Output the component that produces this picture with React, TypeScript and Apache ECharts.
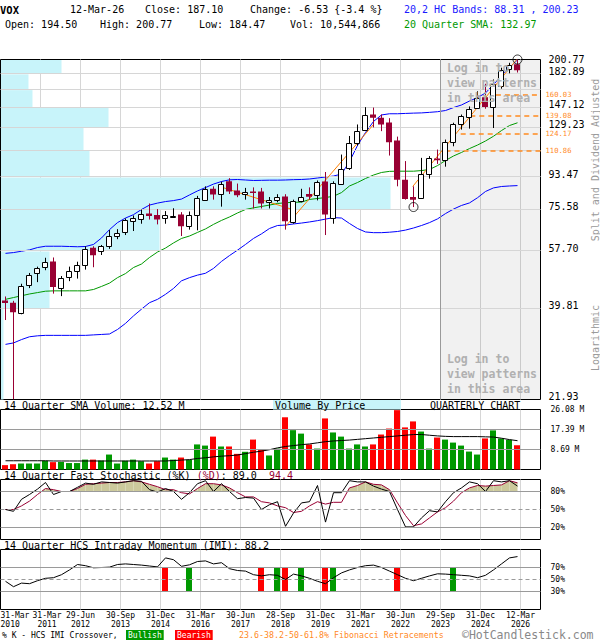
import React, { useEffect, useRef } from "react";
import * as echarts from "echarts";

// ---------------- data (quarterly, 2010Q1 .. 2026Q1) ----------------
const X_LABELS = [
  "31-Mar\n2010", "31-Mar\n2011", "29-Jun\n2012", "30-Sep\n2013", "31-Dec\n2014",
  "31-Mar\n2016", "30-Jun\n2017", "28-Sep\n2018", "31-Dec\n2019", "31-Mar\n2021",
  "30-Jun\n2022", "29-Sep\n2023", "31-Dec\n2024", "12-Mar\n2026",
];
const LAST_DATE = "12-Mar-26";
const TICKER = "VOX";
const LAST_VOLUME = 10544866;

const OPEN = [41.8, 41.2, 38.7, 46.3, 49.9, 52.1, 53.9, 45.4, 48.9, 50.8,
  52.9, 58.9, 57.8, 59.6, 63.5, 64.9, 69.8, 71.1, 73.6, 72.9,
  71.1, 72.3, 73.2, 67.8, 72.5, 80.5, 86.5, 83.6, 90.8, 85.6,
  83.6, 85.0, 85.0, 79.0, 80.2, 82.3, 69.3, 80.1, 83.6, 83.0,
  90.7, 71.3, 89.8, 99.0, 116.7, 127.4, 140.3, 137.3, 133.1, 118.5,
  91.8, 82.0, 81.6, 95.0, 105.4, 104.2, 116.7, 131.5, 138.8, 147.0,
  157.0, 147.4, 169.8, 188.1, 194.5];
const HIGH = [42.9, 41.7, 46.6, 50.0, 52.1, 55.2, 55.3, 49.0, 52.1, 53.8,
  59.5, 59.5, 60.0, 66.1, 66.5, 71.3, 72.7, 75.6, 78.6, 75.8,
  74.8, 76.2, 74.3, 74.6, 82.6, 87.9, 87.9, 90.6, 92.7, 89.5,
  87.0, 87.3, 87.0, 82.0, 83.5, 83.5, 80.6, 86.5, 87.3, 91.3,
  96.5, 90.8, 108.1, 122.0, 131.5, 147.2, 146.8, 140.3, 137.0, 121.5,
  103.6, 87.9, 105.8, 107.0, 111.7, 119.2, 133.0, 140.3, 147.9, 163.2,
  171.4, 176.3, 190.3, 196.5, 200.77];
const LOW = [36.8, 21.93, 38.2, 45.3, 47.1, 50.9, 43.7, 43.0, 47.4, 48.2,
  51.1, 51.9, 56.2, 58.5, 62.3, 64.0, 65.7, 68.9, 70.8, 68.6,
  68.9, 71.6, 63.6, 66.3, 66.0, 79.9, 80.6, 77.0, 83.6, 81.9,
  80.6, 76.1, 76.1, 76.1, 79.2, 66.3, 68.9, 79.2, 80.6, 80.2,
  64.0, 68.9, 88.9, 97.8, 114.5, 127.2, 129.0, 125.9, 107.4, 87.9,
  80.6, 76.8, 81.0, 92.4, 101.7, 99.9, 114.1, 127.2, 128.0, 145.9,
  145.7, 128.5, 166.0, 183.5, 184.47];
const CLOSE = [41.1, 38.7, 46.0, 49.4, 51.7, 53.8, 45.6, 48.4, 50.7, 52.7,
  58.6, 56.1, 59.6, 63.7, 64.9, 70.4, 71.3, 73.6, 72.5, 70.8,
  72.7, 72.6, 67.8, 72.9, 81.2, 86.5, 83.3, 89.5, 85.0, 83.0,
  84.9, 84.5, 78.6, 80.2, 82.0, 70.0, 79.7, 82.1, 82.1, 90.3,
  73.2, 89.8, 98.7, 116.7, 125.9, 140.3, 137.3, 131.5, 117.2, 91.8,
  80.9, 80.6, 95.4, 105.4, 104.2, 117.5, 131.5, 138.8, 145.9, 156.4,
  147.4, 171.4, 188.1, 193.63, 187.10];

const UPPER_BAND = [56.8, 57.1, 57.6, 58.1, 59.0, 59.5, 59.5, 59.5, 59.4, 59.3,
  59.4, 60.2, 62.8, 66.3, 69.4, 71.5, 73.1, 75.6, 77.8, 78.8,
  79.6, 80.1, 80.9, 83.1, 85.3, 87.2, 89.2, 90.7, 91.7, 91.9,
  91.6, 91.3, 91.4, 91.5, 91.5, 91.6, 91.8, 91.9, 92.2, 92.8,
  93.4, 94.0, 95.2, 103.3, 114.7, 124.8, 134.1, 139.9, 141.0, 141.0,
  141.3, 141.6, 141.8, 142.3, 142.9, 144.0, 146.8, 149.3, 153.2, 156.7,
  161.4, 170.6, 180.3, 190.6, 200.23];
const SMA20 = [42.1, 42.6, 43.1, 43.6, 44.0, 44.4, 44.5, 44.5, 44.5, 44.5,
  44.5, 44.9, 45.8, 46.8, 48.5, 49.8, 51.8, 53.0, 55.3, 57.3,
  58.8, 60.8, 62.6, 63.6, 65.1, 66.6, 68.6, 70.4, 72.0, 73.9,
  75.6, 76.4, 77.1, 77.8, 78.6, 79.0, 79.2, 79.3, 80.7, 81.2,
  81.7, 82.4, 84.4, 88.1, 90.1, 92.5, 94.6, 96.2, 96.9, 97.0,
  97.0, 97.0, 97.4, 98.1, 100.6, 104.0, 107.1, 109.6, 112.4, 115.0,
  118.1, 121.8, 126.4, 130.6, 132.97];
const LOWER_BAND = [31.4, 31.7, 32.4, 33.0, 33.2, 33.3, 33.3, 33.3, 33.3, 33.3,
  33.3, 33.4, 33.5, 33.6, 34.6, 36.0, 37.8, 39.5, 41.2, 42.1,
  43.5, 45.2, 47.5, 48.5, 49.3, 49.9, 51.5, 53.9, 56.0, 58.0,
  60.2, 62.6, 64.5, 66.8, 68.1, 68.3, 68.8, 69.2, 69.7, 70.3,
  71.0, 71.7, 71.5, 69.0, 66.8, 65.3, 65.0, 65.0, 65.2, 65.5,
  66.1, 67.0, 68.1, 69.4, 71.1, 73.6, 75.8, 77.6, 78.9, 81.6,
  85.0, 87.0, 87.8, 88.1, 88.31];

// volume in millions of shares; direction g = up quarter, r = down quarter
const VOLUME = [1.9, 2.3, 2.6, 2.6, 2.6, 3.8, 3.2, 3.3, 2.8, 2.8,
  4.3, 4.3, 3.9, 6.5, 2.6, 3.8, 4.3, 3.6, 2.6, 3.6,
  5.2, 4.3, 5.2, 4.2, 10.9, 10.4, 14.3, 10.0, 10.0, 6.8,
  7.7, 13.0, 8.7, 6.1, 9.1, 22.7, 17.1, 15.6, 10.9, 9.1,
  22.2, 16.1, 14.3, 9.1, 10.9, 10.0, 10.9, 15.2, 17.8, 25.8,
  18.3, 20.9, 16.5, 9.1, 13.9, 13.0, 11.7, 10.4, 7.8, 6.5,
  13.5, 17.0, 13.5, 12.9, 10.54];
const VOLUME_DIR = "rrggggrggg" + "grggggggrr" + "ggrgggrgrr" + "grrggrggrg" + "rgggggrrrr" + "rrggrggggg" + "rgggr";
const VOL_SMA14 = [3.8, 3.8, 3.8, 3.8, 3.8, 3.8, 3.7, 3.7, 3.7, 3.7,
  3.7, 3.7, 3.7, 3.7, 3.7, 3.7, 3.7, 3.7, 3.7, 3.7,
  3.7, 3.9, 4.1, 4.3, 4.8, 5.1, 5.5, 5.8, 6.0, 6.3,
  6.9, 7.5, 8.0, 8.6, 9.4, 10.0, 10.4, 10.8, 11.1, 11.6,
  12.1, 12.4, 12.6, 12.8, 13.1, 13.4, 13.7, 14.0, 14.3, 14.6,
  14.9, 15.2, 15.2, 14.9, 14.6, 14.4, 14.3, 14.3, 14.3, 14.3,
  14.2, 14.1, 13.6, 13.0, 12.52];

const STOCH_K = [50, 47, 67, 75, 84, 95, 75, 80, 80, 87,
  94, 92, 96, 95, 94, 96, 98, 97, 83, 79,
  85, 80, 67, 78, 93, 98, 80, 93, 80, 68,
  70, 69, 50, 58, 63, 22, 44, 61, 63, 90,
  29, 78, 78, 98, 96, 96, 89, 84, 80, 50,
  21, 21, 36, 48, 46, 63, 78, 86, 96, 93,
  80, 98, 96, 98, 89.0];
const STOCH_D = [50, 50, 56, 64, 75, 85, 83, 80, 80, 85,
  92, 93, 94, 95, 95, 96, 98, 96, 92, 88,
  83, 83, 78, 76, 85, 93, 93, 91, 86, 78,
  71, 71, 63, 61, 56, 53, 45, 47, 56, 63,
  59, 62, 62, 86, 90, 96, 92, 91, 83, 61,
  40, 23, 26, 36, 46, 53, 64, 78, 86, 90,
  89, 90, 91, 98, 94.4];
const IMI = [47, 38, 44, 43, 48, 52, 53, 58, 66, 75,
  73, 69.5, 70, 70.6, 75, 76, 75, 74, 72.5, 71,
  86, 83, 72, 74.5, 80, 81, 76, 78, 68, 65,
  64, 58, 56, 58, 57, 50, 59, 56, 52, 47,
  43, 53, 61, 66, 70, 73, 74, 70, 64, 58,
  52, 48, 52, 56, 59.5, 59, 58, 57, 56, 53,
  57, 66, 76, 86, 88.2];
const IMI_BULL_CROSS = [23, 34, 37, 41, 56];
const IMI_BEAR_CROSS = [20, 32, 35, 40, 49];

const PRICE_TICKS = [21.93, 39.81, 57.70, 75.58, 93.47, 111.35, 129.23, 147.12, 165.00, 182.89, 200.77];
const PRICE_TICKS_UNLABELLED = [111.35, 165.00];
const VBP_VOLUME = [1.5, 24.5, 79.5, 195, 44.5, 41.5, 54, 16, 14, 30.5]; // per band between price ticks
const VBP_AXIS_MAX = 270;
const VOL_TICKS = [8.69, 17.39, 26.08];
const STOCH_LEVELS = [20, 50, 80];
const IMI_LEVELS = [30, 50, 70];

const FIB_LEVELS = [160.03, 139.08, 124.17, 110.86];
const FIB_START_Q = [61.3, 58.1, 56.9, 55.0]; // quarter index where each level begins
const TREND_LINES = [
  [[26.9, 87.6], [36.25, 75.1]],
  [[35.0, 67.7], [46.0, 131.5]],
  [[50.9, 87.8], [63.9, 200.77]],
];
const PIVOTS = [[51, 76.8], [64, 200.77]];
const PATTERN_ZONE_START_Q = 54.375;

// ---------------- styling ----------------
const FONT = '"DejaVu Sans Mono", "Liberation Mono", monospace';
const U0 = 0.625; // axis units from left edge to first quarter centre
const X_MAX = 67.5;
const uOf = (i: number) => i + U0;
const ln = Math.log;
const ORANGE = "#ff8a1f";
const MAROON = "#990033";
const GRID_GRAY = "#d6d6d6";
const MID_GRAY = "#9a9a9a";
const CYAN = "#c8f4fa";

function buildOption(): any {
  const N = CLOSE.length;
  const last = N - 1;
  const pMin = PRICE_TICKS[0];
  const pMax = PRICE_TICKS[PRICE_TICKS.length - 1];

  const grids = [59.5, 409.5, 479.5, 549.5].map((top, k) => ({
    left: 0.5, width: 540, top, height: k === 0 ? 340 : 60,
    show: true, borderColor: "#000", borderWidth: 1, backgroundColor: "transparent",
  }));

  const xAxisFor = (gridIndex: number, labels: boolean) => ({
    type: "value", gridIndex, min: 0, max: X_MAX, interval: 5,
    axisLine: { show: false }, axisTick: { show: false },
    splitLine: { show: true, showMinLine: false, showMaxLine: false, lineStyle: { color: GRID_GRAY, width: 1 } },
    axisLabel: labels
      ? {
          show: true, fontSize: 8, lineHeight: 9, margin: 1, color: "#000", fontFamily: FONT,
          showMinLabel: false, showMaxLabel: false,
          rich: { s: { padding: [0, 0, 0, 13], fontSize: 8, lineHeight: 9, fontFamily: FONT, color: "#000" } },
          formatter: (v: number) => {
            const k = Math.round(v / 5);
            if (k === 0 || Math.abs(v - k * 5) > 1e-6) return "";
            const txt = X_LABELS[k] ?? "";
            // the second label is nudged right so it clears the edge label
            return k === 1 ? txt.split("\n").map((s) => `{s|${s}}`).join("\n") : txt;
          },
        }
      : { show: false },
  });

  const yAxisFor = (gridIndex: number, min: number, max: number, values: number[], fmt: (v: number) => string, fontSize: number, margin: number, extra: any = {}) => ({
    type: "value", gridIndex, position: "right", min, max,
    axisLine: { show: false }, axisTick: { show: false }, splitLine: { show: false },
    axisLabel: { show: true, customValues: values, formatter: fmt, fontSize, margin, color: "#000", fontFamily: FONT, ...extra },
  });

  const lineData = (arr: number[], f = (v: number) => v) => arr.map((v, i) => [uOf(i), f(v)]);
  const plainLine = (name: string, xi: number, yi: number, data: any[], color: string, z: number, width = 1) => ({
    name, type: "line", xAxisIndex: xi, yAxisIndex: yi, data, z, silent: true,
    showSymbol: false, symbol: "none", lineStyle: { color, width }, itemStyle: { color },
  });
  const helper = (xi: number, yi: number, yVal: number, z: number, lines: any[], extra: any = {}) => ({
    type: "line", xAxisIndex: xi, yAxisIndex: yi, z, silent: true, clip: false,
    data: [[0, yVal]], showSymbol: false, symbol: "none", lineStyle: { opacity: 0 },
    markLine: { silent: true, symbol: ["none", "none"], animation: false, label: { show: false }, data: lines },
    ...extra,
  });
  const hLine = (v: number, color: string, type: any = "solid", width = 1) => ({ yAxis: v, lineStyle: { color, type, width } });

  const series: any[] = [];

  // ---- main panel ----
  series.push({
    name: "vbp", type: "custom", xAxisIndex: 1, yAxisIndex: 0, z: 1, silent: true,
    data: VBP_VOLUME.map((v, k) => [v, ln(PRICE_TICKS[k]), ln(PRICE_TICKS[k + 1])]),
    encode: { x: 0, y: [1, 2] },
    renderItem: (_p: any, api: any) => {
      const a = api.coord([0, api.value(1)]);
      const b = api.coord([api.value(0), api.value(2)]);
      return { type: "rect", shape: { x: a[0] + 0.5, y: b[1] + 0.5, width: b[0] - a[0] - 0.5, height: a[1] - b[1] - 0.5 }, style: { fill: CYAN } };
    },
  });
  series.push(helper(0, 0, ln(pMin), 2, [
    ...PRICE_TICKS.slice(1, -1).map((t) => hLine(ln(t), GRID_GRAY)),
    { xAxis: uOf(PATTERN_ZONE_START_Q), lineStyle: { color: MID_GRAY, width: 1, type: "solid" } },
  ], {
    markArea: { silent: true, animation: false, itemStyle: { color: "rgba(0,0,0,0.055)" }, data: [[{ xAxis: uOf(PATTERN_ZONE_START_Q) }, { xAxis: X_MAX }]] },
  }));
  series.push({
    type: "line", xAxisIndex: 0, yAxisIndex: 0, z: 3, silent: true, clip: false,
    data: [[0, ln(pMin)]], showSymbol: false, symbol: "none", lineStyle: { opacity: 0 },
    markLine: {
      silent: true, symbol: ["none", "none"], animation: false,
      lineStyle: { color: ORANGE, type: [5, 4], width: 1.5 },
      label: { show: true, position: "end", formatter: "{b}", color: ORANGE, fontSize: 7.2, lineHeight: 7.2, fontFamily: FONT, distance: 5 },
      data: FIB_LEVELS.map((f, k) => [{ coord: [uOf(FIB_START_Q[k]), ln(f)], name: f.toFixed(2) }, { coord: [X_MAX, ln(f)] }]),
    },
  });
  series.push(plainLine("sma20", 0, 0, lineData(SMA20, ln), "#009900", 4));
  series.push(plainLine("upper", 0, 0, lineData(UPPER_BAND, ln), "#0000ff", 4));
  series.push(plainLine("lower", 0, 0, lineData(LOWER_BAND, ln), "#0000ff", 4));
  TREND_LINES.forEach((t, k) => {
    series.push(plainLine("trend" + k, 0, 0, t.map(([q, p]) => [uOf(q), ln(p)]), "#ff8000", 5));
  });
  series.push({
    name: "candles", type: "custom", xAxisIndex: 0, yAxisIndex: 0, z: 10, clip: true, silent: true,
    data: CLOSE.map((c, i) => [uOf(i), ln(OPEN[i]), ln(c), ln(LOW[i]), ln(HIGH[i])]),
    encode: { x: 0, y: [1, 2, 3, 4] },
    renderItem: (_p: any, api: any) => {
      const u = api.value(0);
      const o = api.value(1), c = api.value(2), l = api.value(3), h = api.value(4);
      const pH = api.coord([u, h]), pL = api.coord([u, l]);
      const pO = api.coord([u, o]), pC = api.coord([u, c]);
      const cx = Math.floor(pH[0]);
      const up = c >= o;
      const color = up ? "#000" : MAROON;
      const top = Math.min(pO[1], pC[1]);
      const bot = Math.max(pO[1], pC[1]);
      const children: any[] = [
        { type: "line", shape: { x1: cx + 0.5, y1: pH[1], x2: cx + 0.5, y2: pL[1] }, style: { stroke: color, lineWidth: 1 } },
      ];
      if (up) {
        const yt = Math.round(top) + 0.5;
        children.push({ type: "rect", shape: { x: cx - 2.5, y: yt, width: 5, height: Math.max(1, Math.round(bot - top)) }, style: { fill: "#fff", stroke: "#000", lineWidth: 1 } });
      } else {
        children.push({ type: "rect", shape: { x: cx - 3, y: top, width: 6, height: Math.max(1.5, bot - top) }, style: { fill: MAROON } });
      }
      return { type: "group", children };
    },
  });
  series.push({
    name: "pivots", type: "scatter", xAxisIndex: 0, yAxisIndex: 0, z: 11, silent: true,
    data: PIVOTS.map(([i, p]) => [uOf(i), ln(p)]), symbol: "circle", symbolSize: 9,
    itemStyle: { color: "rgba(0,0,0,0)", borderColor: "#000", borderWidth: 1 },
  });

  // ---- volume panel ----
  series.push(helper(2, 1, 0, 1, VOL_TICKS.slice(0, -1).map((v) => hLine(v, MID_GRAY))));
  series.push({
    name: "volume", type: "custom", xAxisIndex: 2, yAxisIndex: 1, z: 3, silent: true,
    data: VOLUME.map((v, i) => [uOf(i), v, VOLUME_DIR[i] === "g" ? 1 : 0]),
    encode: { x: 0, y: 1 },
    renderItem: (_p: any, api: any) => {
      const a = api.coord([api.value(0), 0]);
      const b = api.coord([api.value(0), api.value(1)]);
      const cx = Math.floor(a[0]);
      return { type: "rect", shape: { x: cx - 3, y: b[1], width: 6, height: a[1] - b[1] }, style: { fill: api.value(2) ? "#009900" : "#ff0000" } };
    },
  });
  series.push(plainLine("volsma", 2, 1, lineData(VOL_SMA14), "#000", 4));

  // ---- stochastic panel ----
  series.push(helper(3, 2, 0, 1, [hLine(80, MID_GRAY), hLine(20, MID_GRAY), hLine(50, MID_GRAY, [4, 3])]));
  series.push({
    name: "stochfill", type: "custom", xAxisIndex: 3, yAxisIndex: 2, z: 2, silent: true,
    data: STOCH_D.slice(0, -1).map((d, i) => [uOf(i), d, uOf(i + 1), STOCH_D[i + 1]]),
    encode: { x: [0, 2], y: [1, 3] },
    renderItem: (_p: any, api: any) => {
      const d0 = api.value(1), d1 = api.value(3);
      const p0 = api.coord([api.value(0), d0]);
      const p1 = api.coord([api.value(2), d1]);
      const base = api.coord([api.value(0), 80])[1];
      let pts: number[][] | null = null;
      if (d0 >= 80 && d1 >= 80) pts = [[p0[0], base], p0, p1, [p1[0], base]];
      else if (d0 >= 80) {
        const t = (d0 - 80) / (d0 - d1);
        pts = [[p0[0], base], p0, [p0[0] + t * (p1[0] - p0[0]), base]];
      } else if (d1 >= 80) {
        const t = (80 - d0) / (d1 - d0);
        pts = [[p0[0] + t * (p1[0] - p0[0]), base], p1, [p1[0], base]];
      }
      if (!pts) return { type: "group", children: [] };
      return { type: "polygon", shape: { points: pts }, style: { fill: "#ccc99c" } };
    },
  });
  series.push(plainLine("stochD", 3, 2, lineData(STOCH_D), MAROON, 3));
  series.push(plainLine("stochK", 3, 2, lineData(STOCH_K), "#000", 4));

  // ---- IMI panel ----
  series.push(helper(4, 3, 0, 1, [hLine(70, MID_GRAY), hLine(30, MID_GRAY), hLine(50, MID_GRAY, [4, 3])]));
  series.push({
    name: "imicross", type: "custom", xAxisIndex: 4, yAxisIndex: 3, z: 2, silent: true,
    data: [...IMI_BULL_CROSS.map((i) => [uOf(i), 30, 70, 1]), ...IMI_BEAR_CROSS.map((i) => [uOf(i), 30, 70, 0])],
    encode: { x: 0, y: [1, 2] },
    renderItem: (_p: any, api: any) => {
      const a = api.coord([api.value(0), api.value(1)]);
      const b = api.coord([api.value(0), api.value(2)]);
      const cx = Math.floor(a[0]);
      return { type: "rect", shape: { x: cx - 3, y: b[1], width: 6, height: a[1] - b[1] }, style: { fill: api.value(3) ? "#009900" : "#ff0000" } };
    },
  });
  series.push(plainLine("imi", 4, 3, lineData(IMI), "#000", 3));

  // ---- texts ----
  const T = (text: string, x: number, y: number, style: any = {}) => ({
    type: "text", x, y, silent: true, z: 100,
    style: { text, fill: "#000", fontSize: 10, fontFamily: FONT, verticalAlign: "middle", ...style },
  });
  const chg = CLOSE[last] - CLOSE[last - 1];
  const pct = (chg / CLOSE[last - 1]) * 100;
  const graphic = [
    T(TICKER, 0, 9.5, { fontWeight: "bold", fontSize: 10.5 }),
    T(LAST_DATE, 70, 9.5),
    T(`Close: ${CLOSE[last].toFixed(2)}`, 145, 9.5),
    T(`Change: ${chg.toFixed(2)} {${pct.toFixed(1)} %}`, 250, 9.5),
    T(`20,2 HC Bands: ${LOWER_BAND[last].toFixed(2)} , ${UPPER_BAND[last].toFixed(2)}`, 404, 9.5, { fill: "#1a1aff" }),
    T(`Open: ${OPEN[last].toFixed(2)}`, 5, 24.5),
    T(`High: ${HIGH[last].toFixed(2)}`, 100, 24.5),
    T(`Low: ${LOW[last].toFixed(2)}`, 199, 24.5),
    T(`Vol: ${LAST_VOLUME.toLocaleString("en-US")}`, 290, 24.5),
    T(`20 Quarter SMA: ${SMA20[last].toFixed(2)}`, 404, 24.5, { fill: "#009900" }),
    T("Log in to\nview patterns\nin this area", 447, 60, { verticalAlign: "top", fontWeight: "bold", fontSize: 11.5, lineHeight: 15, fill: "#b0b0b0" }),
    T("Log in to\nview patterns\nin this area", 447, 351, { verticalAlign: "top", fontWeight: "bold", fontSize: 11.5, lineHeight: 15, fill: "#b0b0b0" }),
    { type: "text", x: 595, y: 160, rotation: Math.PI / 2, silent: true, z: 100, style: { text: "Split and Dividend Adjusted", fill: MID_GRAY, fontSize: 10, fontFamily: FONT, align: "center", verticalAlign: "middle" } },
    { type: "text", x: 595, y: 338, rotation: Math.PI / 2, silent: true, z: 100, style: { text: "Logarithmic", fill: MID_GRAY, fontSize: 10, fontFamily: FONT, align: "center", verticalAlign: "middle" } },
    T(`14 Quarter SMA Volume: ${VOL_SMA14[last].toFixed(2)} M`, 4, 405),
    { type: "rect", silent: true, z: 99, shape: { x: 273, y: 400, width: 128, height: 9.5 }, style: { fill: CYAN } },
    T("Volume By Price", 275, 405),
    T("QUARTERLY CHART", 430, 405),
    T(`14 Quarter Fast Stochastic (%K) {d|(%D)}: ${STOCH_K[last].toFixed(1)}  {d|${STOCH_D[last].toFixed(1)}}`, 4, 475, { rich: { d: { fill: MAROON, fontSize: 10, fontFamily: FONT } } }),
    T(`14 Quarter HCS Intraday Momentum (IMI): ${IMI[last].toFixed(1)}`, 4, 545),
    // first date label sits against the left edge of the panel
    T(X_LABELS[0], 0.5, 611, { fontSize: 8, lineHeight: 9, align: "left", verticalAlign: "top" }),
    T("% K - HCS IMI Crossover,", 2, 635, { fontSize: 8 }),
    T("Bullish", 126, 635, { fontSize: 8, fill: "#fff", backgroundColor: "#009900", padding: [1, 2, 1, 2] }),
    T("Bearish", 175, 635, { fontSize: 8, fill: "#fff", backgroundColor: "#ff0000", padding: [1, 2, 1, 2] }),
    T("23.6-38.2-50-61.8% Fibonacci Retracements", 239, 635, { fontSize: 8.3, fill: ORANGE }),
    T("\u00A9HotCandlestick.com", 462, 634.5, { fontSize: 11.5, fill: "#888" }),
  ];

  return {
    animation: false,
    backgroundColor: "#fff",
    textStyle: { fontFamily: FONT },
    grid: grids,
    xAxis: [
      xAxisFor(0, false),
      { type: "value", gridIndex: 0, min: 0, max: VBP_AXIS_MAX, show: false, position: "top" },
      xAxisFor(1, false),
      xAxisFor(2, false),
      xAxisFor(3, true),
    ],
    yAxis: [
      yAxisFor(0, ln(pMin), ln(pMax),
        PRICE_TICKS.filter((t) => !PRICE_TICKS_UNLABELLED.includes(t)).map(ln),
        (v: number) => Math.exp(v).toFixed(2), 10, 8,
        { verticalAlign: "bottom", lineHeight: 5.1, verticalAlignMaxLabel: "middle", verticalAlignMinLabel: "bottom" }),
      yAxisFor(1, 0, VOL_TICKS[VOL_TICKS.length - 1], VOL_TICKS, (v: number) => v.toFixed(2) + " M", 8, 10),
      yAxisFor(2, 0, 100, STOCH_LEVELS, (v: number) => v + "%", 8, 10),
      yAxisFor(3, 0, 100, IMI_LEVELS, (v: number) => v + "%", 8, 10),
    ],
    series,
    graphic,
  };
}

export default function App() {
  const ref = useRef<HTMLDivElement>(null);
  useEffect(() => {
    if (!ref.current) return;
    const chart = echarts.init(ref.current, null, { renderer: "svg" });
    chart.setOption(buildOption());
    return () => chart.dispose();
  }, []);
  return <div ref={ref} style={{ position: "absolute", left: 0, top: 0, width: 600, height: 640, background: "#fff" }} />;
}
